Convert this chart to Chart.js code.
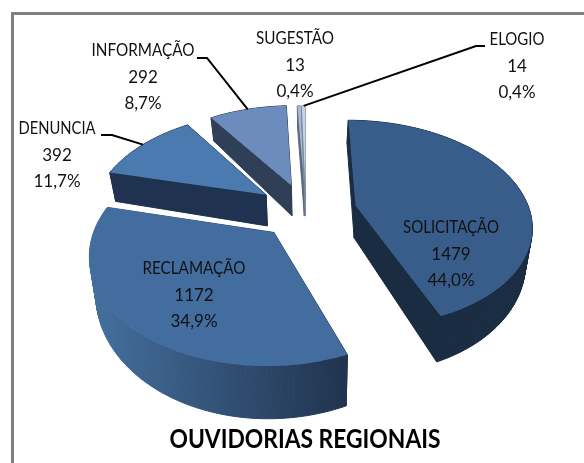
<!DOCTYPE html>
<html><head><meta charset="utf-8">
<style>html,body{margin:0;padding:0;background:#fff}canvas{display:block}</style>
<script src="https://cdn.jsdelivr.net/npm/chart.js@4"></script>
</head><body><canvas id="c" width="584" height="463"></canvas>
<script>
const categories = ['SOLICITAÇÃO','RECLAMAÇÃO','DENUNCIA','INFORMAÇÃO','SUGESTÃO','ELOGIO'];
const values = [1479,1172,392,292,13,14];
const explode = [51,47,50,48,45,45];
const topColors = ['#385d8a','#426d9e','#4a7ab0','#6b8cbc','#a9bad3','#c6d2e4'];
const wallFrom = ['#1a2c42','#44709f','#1f3350','#2e3f57','#59697f','#7b8aa0'];
const wallTo = ['#1a2c42','#21334e','#1f3350','#2e3f57','#59697f','#7b8aa0'];
const paintOrder = [1,2,3,4,5,0];
const titleText = 'OUVIDORIAS REGIONAIS';
const labelAt = [[451,228],[194,269],[57,129],[143,51],[295,39],[517,40]];
const labelWidth = [96,103,77,103,78,55];
const leaders = {2:[[101,135],[112,135]],3:[[197,58],[207,58]],5:[[485,46],[476,46]]};
const persp=0.001, squash=0.585, depth=33, taper=0.97;

function proj(a,xm,ym){const s=1/(1-persp*ym);return [a.x+xm*s,a.y+squash*ym*s,s];}
function base(a,p){return [a.x+(p[0]-a.x)*taper,p[1]+depth*p[2]*p[2]];}
function outline(a){
  const m=(a.startAngle+a.endAngle)/2,o=a.options.offset||0,ox=o*Math.cos(m),oy=o*Math.sin(m),R=a.outerRadius;
  const pts=[proj(a,ox,oy)];
  const n=Math.max(2,Math.ceil((a.endAngle-a.startAngle)/0.02));
  for(let i=0;i<=n;i++){const t=a.startAngle+(a.endAngle-a.startAngle)*i/n;pts.push(proj(a,ox+R*Math.cos(t),oy+R*Math.sin(t)));}
  return pts;
}
function midRim(a){
  const m=(a.startAngle+a.endAngle)/2,o=a.options.offset||0,r=a.outerRadius+o;
  return proj(a,r*Math.cos(m),r*Math.sin(m));
}
const pie3d={id:'pie3d',
  beforeDraw(ch){const c=ch.ctx;c.save();c.fillStyle='#fff';c.fillRect(0,0,584,463);
    c.strokeStyle='#7f7f7f';c.lineWidth=3;c.beginPath();c.moveTo(12.5,470);c.lineTo(12.5,13.5);c.lineTo(590,13.5);c.stroke();c.restore();},
  beforeDatasetDraw(ch,args){
    const c=ch.ctx,arcs=ch.getDatasetMeta(args.index).data;
    c.save();
    for(const i of paintOrder){
      const a=arcs[i],pts=outline(a);
      const xs=pts.map(p=>p[0]);
      const g=c.createLinearGradient(Math.min(...xs),0,Math.max(...xs),0);
      g.addColorStop(0,wallFrom[i]);g.addColorStop(1,wallTo[i]);
      c.fillStyle=g;c.strokeStyle=g;c.lineWidth=1;
      const ring=pts.concat([pts[0]]);
      for(let k=0;k<ring.length-1;k++){
        const b0=base(a,ring[k]),b1=base(a,ring[k+1]);
        c.beginPath();c.moveTo(ring[k][0],ring[k][1]);c.lineTo(ring[k+1][0],ring[k+1][1]);c.lineTo(b1[0],b1[1]);c.lineTo(b0[0],b0[1]);c.closePath();c.fill();c.stroke();
      }
      c.fillStyle=a.options.backgroundColor;
      c.beginPath();pts.forEach((p,k)=>k?c.lineTo(p[0],p[1]):c.moveTo(p[0],p[1]));c.closePath();c.fill();
    }
    c.restore();
    return false;
  },
  afterDraw(ch){
    const c=ch.ctx,arcs=ch.getDatasetMeta(0).data,total=values.reduce((x,y)=>x+y,0);
    c.save();
    c.strokeStyle='#000';c.lineWidth=2;
    for(const k in leaders){
      const l=leaders[k],e=midRim(arcs[k]);
      c.beginPath();c.moveTo(l[0][0],l[0][1]);c.lineTo(l[1][0],l[1][1]);c.lineTo(e[0],e[1]);c.stroke();
    }
    c.fillStyle='#111';c.textAlign='center';c.textBaseline='middle';
    c.font='17px Lato,"Liberation Sans",sans-serif';
    categories.forEach((n,i)=>{
      const [x,y]=labelAt[i];
      c.fillText(n,x,y,labelWidth[i]);
      c.fillText(String(values[i]),x,y+26.5);
      c.fillText((values[i]/total*100).toFixed(1).replace('.',',')+'%',x,y+53);
    });
    c.fillStyle='#000';c.font='bold 26px Lato,"Liberation Sans",sans-serif';
    c.fillText(titleText,305,440,271);
    c.restore();
  }
};
new Chart(document.getElementById('c'),{
  type:'pie',
  data:{labels:categories,datasets:[{data:values,backgroundColor:topColors,offset:explode,borderWidth:0,radius:174}]},
  options:{responsive:false,animation:false,devicePixelRatio:1,rotation:0,
    layout:{padding:{left:28,right:0,top:0,bottom:41}},
    plugins:{legend:{display:false},tooltip:{enabled:false},title:{display:false}}},
  plugins:[pie3d]
});
</script></body></html>
